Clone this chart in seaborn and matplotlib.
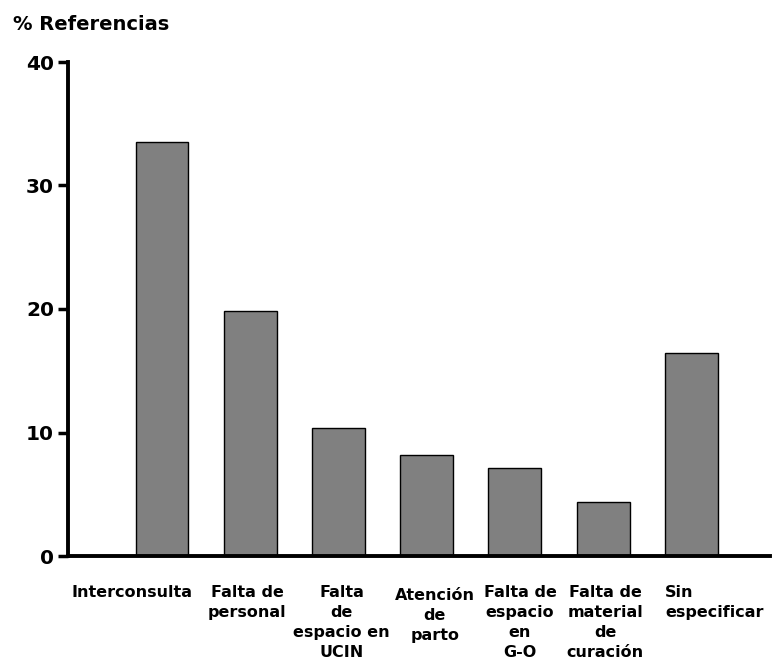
import matplotlib
matplotlib.use("Agg")
import matplotlib.pyplot as plt
import matplotlib.transforms as mtransforms
import seaborn as sns
import pandas as pd

categories = [
    "Interconsulta",
    "Falta de\npersonal",
    "Falta\nde\nespacio en\nUCIN",
    "Atención\nde\nparto",
    "Falta de\nespacio\nen\nG-O",
    "Falta de\nmaterial\nde\ncuración",
    "Sin\nespecificar",
]
values = [33.5, 19.8, 10.4, 8.2, 7.1, 4.4, 16.4]
y_ticks = [0, 10, 20, 30, 40]
y_label = "% Referencias"

df = pd.DataFrame({"cat": categories, "val": values})

sns.set_theme(style="white")
plt.rcParams["font.family"] = ["DejaVu Sans"]
plt.rcParams["text.color"] = "black"
plt.rcParams["xtick.color"] = "black"
plt.rcParams["ytick.color"] = "black"

fig = plt.figure(figsize=(7.73, 6.69), dpi=100)
ax = fig.add_axes([68 / 773, 1 - 556 / 669, (770 - 68) / 773, (556 - 62) / 669])

sns.barplot(data=df, x="cat", y="val", color="#808080", saturation=1,
            edgecolor="black", linewidth=1.0, width=0.6, ax=ax)

ax.set_ylim(0, 40)
ax.set_xlim(-1.065, 6.89)
ax.set_yticks(y_ticks)
ax.set_yticklabels([str(t) for t in y_ticks], fontsize=14.5, fontweight="bold",
                   color="black")
ax.set_xlabel("")
ax.set_ylabel("")

for s in ["top", "right"]:
    ax.spines[s].set_visible(False)
for s in ["left", "bottom"]:
    ax.spines[s].set_linewidth(2.8)
    ax.spines[s].set_color("black")

ax.tick_params(axis="y", which="both", left=True, length=7, width=2.5,
               direction="out", pad=3, color="black")
ax.tick_params(axis="x", which="both", bottom=False, length=0, pad=21)

# label offsets in pixels (layout only)
offsets = [-30, -3, 3, 8, 5, 2, 23]
dy_list = [0, 0, 0, -3, 0, 0, 0]
ma_list = ["center"] * 6 + ["left"]
ax.set_xticks(range(len(categories)))
ax.set_xticklabels(categories, fontsize=11.5, fontweight="bold",
                   linespacing=1.42, color="black")
for lab, dx, dy, ma in zip(ax.get_xticklabels(), offsets, dy_list, ma_list):
    lab.set_multialignment(ma)
    lab.set_verticalalignment("top")
    lab.set_transform(lab.get_transform() +
                      mtransforms.ScaledTranslation(dx / 100, dy / 100,
                                                    fig.dpi_scale_trans))

fig.text(13 / 773, 1 - 24 / 669, y_label, fontsize=14, fontweight="bold",
         ha="left", va="center", color="black")

fig.savefig("out.png", dpi=100, facecolor="white")
